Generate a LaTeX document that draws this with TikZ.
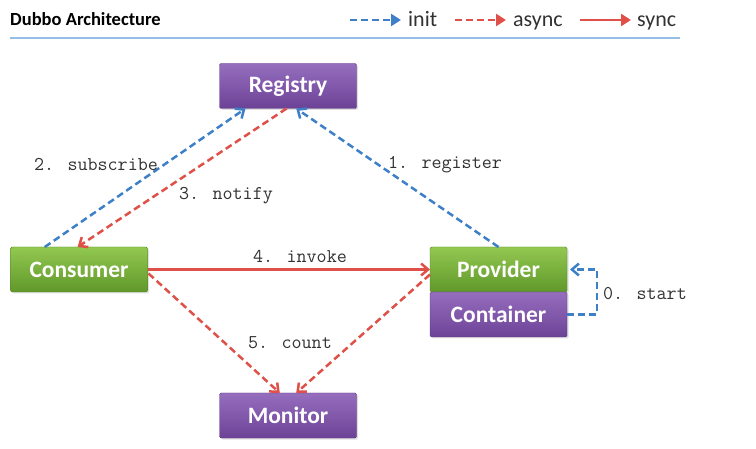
\documentclass[tikz,border=0pt]{standalone}
\usepackage{fontspec}
\usepackage{tikz}
\usetikzlibrary{calc}
\usetikzlibrary{arrows.meta}
\usetikzlibrary{shadows}
\newfontfamily\boxfont{Carlito}
\definecolor{initblue}{RGB}{61,128,199}
\definecolor{callred}{RGB}{222,80,72}
\definecolor{rulerblue}{RGB}{150,190,228}
\definecolor{greentop}{RGB}{146,200,80}
\definecolor{greenbot}{RGB}{96,152,42}
\definecolor{greenline}{RGB}{84,130,40}
\definecolor{purpletop}{RGB}{150,110,190}
\definecolor{purplebot}{RGB}{108,66,150}
\definecolor{purpleline}{RGB}{94,58,130}
\definecolor{labelgray}{RGB}{50,50,50}

\begin{document}
\begin{tikzpicture}[x=1pt,y=-1pt,
    box/.style={minimum width=137pt,minimum height=45pt,inner sep=0pt,outer sep=0pt,
        rounded corners=1.5pt,text=white,font=\boxfont\bfseries\fontsize{23.5}{25}\selectfont,
        drop shadow={shadow xshift=1.5pt,shadow yshift=-1.5pt,opacity=0.25}},
    greenbox/.style={box,draw=greenline,top color=greentop,bottom color=greenbot},
    purplebox/.style={box,draw=purpleline,top color=purpletop,bottom color=purplebot},
    tip/.style={-{Straight Barb[length=7pt,width=12pt]}},
    legendtip/.style={-{Triangle[length=10pt,width=12pt]}},
    init/.style={tip,draw=initblue,line width=2.5pt,dash pattern=on 7pt off 4pt},
    async/.style={tip,draw=callred,line width=2.5pt,dash pattern=on 7pt off 4pt},
    sync/.style={tip,draw=callred,line width=2.5pt},
    steplabel/.style={text=labelgray,font=\ttfamily\fontsize{19.5}{21}\selectfont,inner sep=1pt},
    legendtext/.style={font=\boxfont\fontsize{22}{24}\selectfont,text=labelgray,anchor=base west,inner sep=0pt}]
    \useasboundingbox (0,0) rectangle (756,449);

    % header
    \node[anchor=base west,inner sep=0pt,font=\boxfont\bfseries\fontsize{18.5}{20}\selectfont] (title) at (10,26) {Dubbo Architecture};
    \draw[rulerblue,line width=2pt] (10,38) -- (680,38);
    \coordinate (initA) at (350,20);
    \coordinate (initB) at (401,20);
    \coordinate (asyncA) at (455,20);
    \coordinate (asyncB) at (506,20);
    \coordinate (syncA) at (580,20);
    \coordinate (syncB) at (631,20);
    \draw[init,legendtip] (initA) -- (initB);
    \draw[async,legendtip] (asyncA) -- (asyncB);
    \draw[sync,legendtip] (syncA) -- (syncB);
    \node[legendtext] (initT) at (408,27) {init};
    \node[legendtext] (asyncT) at (513,27) {async};
    \node[legendtext] (syncT) at (637,27) {sync};

    % boxes
    \node[purplebox] (registry) at (288,86) {Registry};
    \node[greenbox] (consumer) at (79,269.5) {Consumer};
    \node[greenbox] (provider) at (498.5,269.5) {Provider};
    \node[purplebox,anchor=north] (container) at (provider.south) {Container};
    \node[purplebox] (monitor) at (288,415.5) {Monitor};

    % ends on the boxes
    \coordinate (conSub) at ($(consumer.north west)!0.25!(consumer.north east)$);
    \coordinate (conNot) at ($(consumer.north west)!0.49!(consumer.north east)$);
    \coordinate (regSub) at ($(registry.south west)!0.19!(registry.south east)$);
    \coordinate (regNot) at ($(registry.south west)!0.49!(registry.south east)$);
    \coordinate (regReg) at ($(registry.south west)!0.56!(registry.south east)$);
    \coordinate (proReg) at ($(provider.north west)!0.5!(provider.north east)$);
    \coordinate (monL) at ($(monitor.north west)!0.44!(monitor.north east)$);
    \coordinate (monR) at ($(monitor.north west)!0.56!(monitor.north east)$);
    \coordinate (loopB) at ($(container.east)+(30,0)$);
    \coordinate (loopT) at ($(provider.east)+(30,0)$);

    % calls
    \draw[init] (conSub) -- (regSub);
    \draw[async] (regNot) -- (conNot);
    \draw[init] (proReg) -- (regReg);
    \draw[sync] (consumer.east) -- (provider.west);
    \draw[async] ($(consumer.east)+(1,4)$) -- (monL);
    \draw[async] ($(provider.west)+(0,5)$) -- (monR);
    \draw[init] (container.east) -- (loopB) -- (loopT) -- ($(provider.east)+(3,0)$);

    % step labels
    \node[steplabel] (subscribe) at (96,164) {2. subscribe};
    \node[steplabel] (notify) at (226,196) {3. notify};
    \node[steplabel] (register) at (445,165) {1. register};
    \node[steplabel] (invoke) at (300,256) {4. invoke};
    \node[steplabel] (count) at (290,343) {5. count};
    \node[steplabel] (start) at (645,294) {0. start};
\end{tikzpicture}
\end{document}
